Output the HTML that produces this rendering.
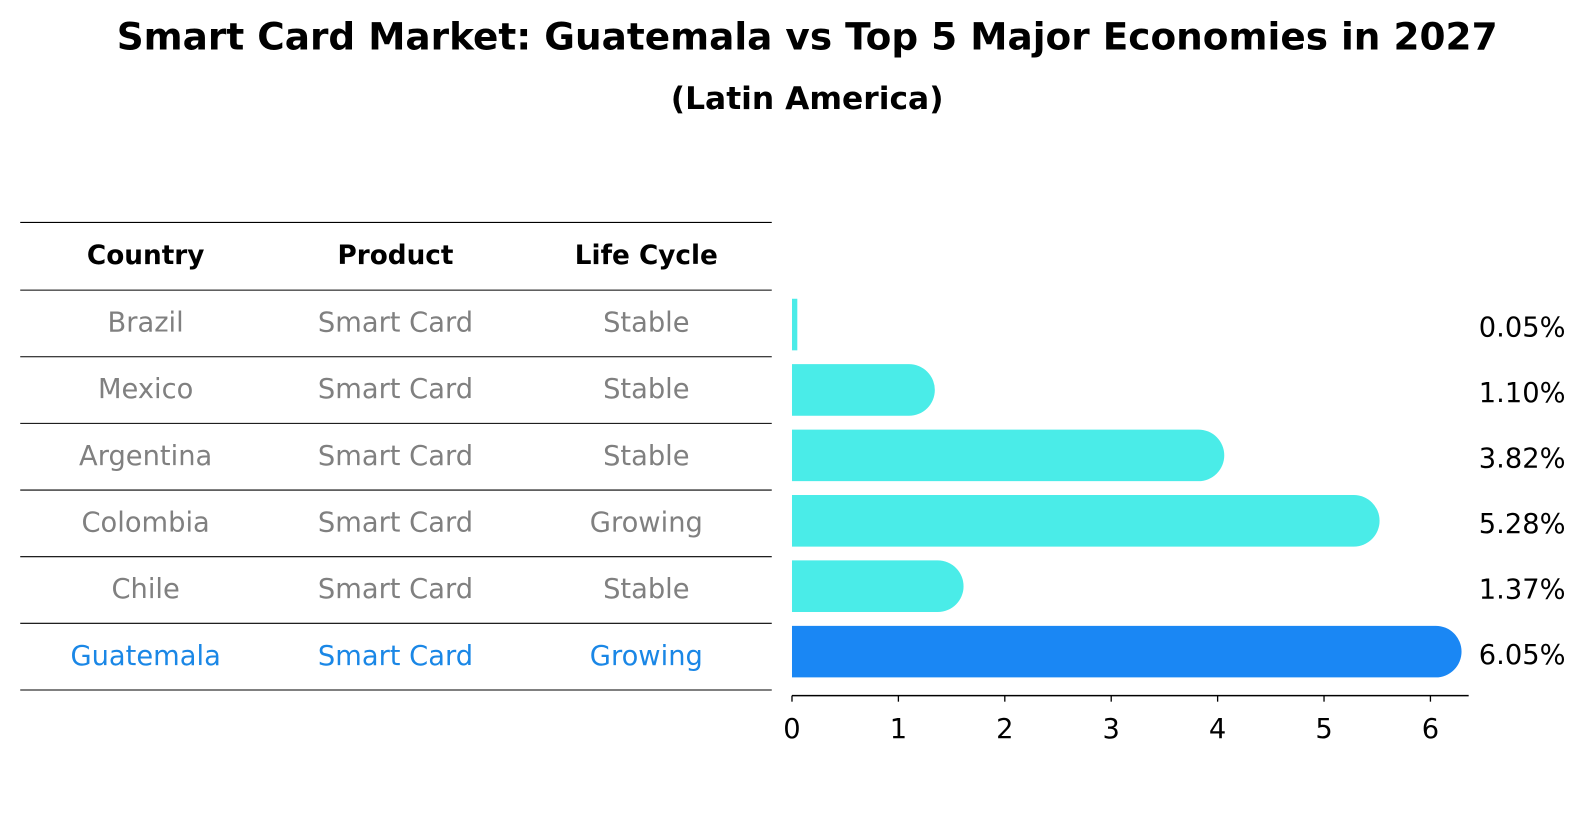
<!DOCTYPE html>
<html><head><meta charset="utf-8"><style>
body{margin:0;background:#fff;font-family:"Liberation Sans","DejaVu Sans",sans-serif}
</style></head><body>
<svg width="1586" height="823" viewBox="0 0 1568 814" preserveAspectRatio="none" xmlns="http://www.w3.org/2000/svg" font-family="DejaVu Sans, Liberation Sans, sans-serif" style="display:block">
<rect width="1568" height="814" fill="#fff"/>
<text x="798" y="49" text-anchor="middle" font-size="37" font-weight="bold">Smart Card Market: Guatemala vs Top 5 Major Economies in 2027</text>
<text x="798" y="108" text-anchor="middle" font-size="31" font-weight="bold">(Latin America)</text>
<g id="table"></g>
<g id="bars"></g>
</svg>
<script>
const countries=["Brazil","Mexico","Argentina","Colombia","Chile","Guatemala"];
const products=["Smart Card","Smart Card","Smart Card","Smart Card","Smart Card","Smart Card"];
const lifeCycles=["Stable","Stable","Stable","Growing","Stable","Growing"];
const values=[0.05,1.10,3.82,5.28,1.37,6.05];
const valueLabels=["0.05%","1.10%","3.82%","5.28%","1.37%","6.05%"];
const ticks=[0,1,2,3,4,5,6];
const NS="http://www.w3.org/2000/svg";
function mk(t,a,p){const e=document.createElementNS(NS,t);for(const k in a)e.setAttribute(k,a[k]);p.appendChild(e);return e;}
const tbl=document.getElementById('table'),bars=document.getElementById('bars');
const rowY=i=>287+i*65.9, colX=[144,391,639];
const xs=v=>783+v*105.2, yc=i=>321+i*64.7;
for(let i=0;i<=7;i++){const y=i==0?220:287+(i-1)*65.9;
const l=mk('line',{x1:20,x2:763,y1:y,y2:y,stroke:'#000','stroke-width':1},tbl);

}
["Country","Product","Life Cycle"].forEach((h,j)=>{const t=mk('text',{x:colX[j],y:261,'text-anchor':'middle','font-size':26,'font-weight':'bold'},tbl);t.textContent=h;

});
countries.forEach((c,i)=>{const col=i==5?'#1a87e6':'#808080';
[c,products[i],lifeCycles[i]].forEach((s,j)=>{const t=mk('text',{x:colX[j],y:rowY(i)+41,'text-anchor':'middle','font-size':27,fill:col},tbl);t.textContent=s;

});
const v=values[i],y=yc(i),h=51,color=i==5?'#1a87f4':'#4aece8';
const w=xs(v)-783;
if(v>0.5){
const p=mk('path',{d:`M783,${y-h/2} H${783+w} A${h/2},${h/2} 0 0 1 ${783+w},${y+h/2} H783 Z`,fill:color},bars);


}else{
const p=mk('rect',{x:783,y:y-h/2,width:Math.max(w,5),height:h,fill:color},bars);

}
const t=mk('text',{x:1462,y:y+12,'font-size':27},bars);t.textContent=valueLabels[i];


});
const ax=mk('line',{x1:783,x2:1452,y1:688,y2:688,stroke:'#000','stroke-width':1.5},bars);


ticks.forEach(v=>{const tk=mk('line',{x1:xs(v),x2:xs(v),y1:688,y2:694,stroke:'#000','stroke-width':1.3},bars);


const t=mk('text',{x:xs(v),y:730,'text-anchor':'middle','font-size':27},bars);t.textContent=v;

});
</script>
</body></html>
